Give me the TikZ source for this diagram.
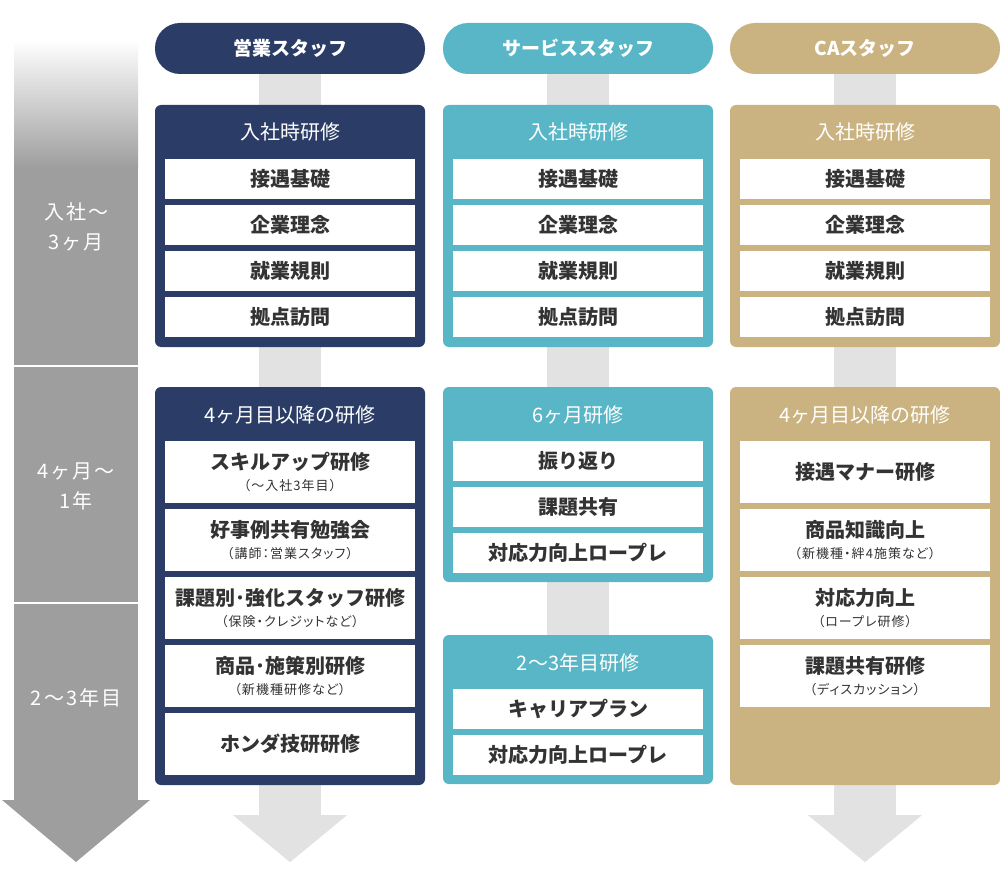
\documentclass[tikz,border=0pt]{standalone}
\usepackage{fontspec}
\setmainfont{Noto Sans CJK JP}
\newfontfamily\spacedfont[LetterSpace=10]{Noto Sans CJK JP}
\newfontfamily\subfont[RawFeature=+palt, LetterSpace=8]{Noto Sans CJK JP}
\usepackage{tikz}
\usetikzlibrary{positioning, backgrounds}
\definecolor{navy}{HTML}{2B3D66}
\definecolor{svcteal}{HTML}{58B6C6}
\definecolor{catan}{HTML}{CBB381}
\definecolor{tlgray}{HTML}{9E9E9E}
\definecolor{bargray}{HTML}{E2E2E2}
\definecolor{ink}{HTML}{333333}
\tikzset{
pill/.style={rounded corners=25pt, minimum width=270pt, minimum height=51pt,
inner sep=0pt, text=white, font=\bfseries\fontsize{19pt}{22pt}\selectfont},
stage/.style={rounded corners=6pt, minimum width=270pt, inner sep=0pt},
boxtitle/.style={inner sep=0pt, text=white, font=\fontsize{20pt}{24pt}\selectfont},
item/.style={fill=white, minimum width=250pt, minimum height=40pt, inner sep=0pt,
text=ink, font=\bfseries\fontsize{20pt}{24pt}\selectfont},
tall/.style={item, minimum height=62pt},
itemmain/.style={inner sep=0pt, text=ink, font=\bfseries\fontsize{20pt}{24pt}\selectfont},
itemsub/.style={inner sep=0pt, text=ink, font=\subfont\fontsize{13pt}{16pt}\selectfont},
period/.style={inner sep=0pt, text=white, align=center,
font=\spacedfont\fontsize{20pt}{30pt}\selectfont},
bar/.style={fill=bargray}
}

\begin{document}
\begin{tikzpicture}[x=1pt, y=-1pt]
\useasboundingbox (0,0) rectangle (1000,869);
% time line on the left
\shade[top color=white, bottom color=tlgray] (14,40) rectangle (138,168);
\fill[tlgray] (14,167) rectangle (138,801);
\fill[tlgray] (2,800) -- (150,800) -- (76,862) -- cycle;
\draw[white, line width=2pt] (14,366) -- (138,366);
\draw[white, line width=2pt] (14,603) -- (138,603);
\node[period] (p1) at (76,227) {入社〜\\3ヶ月};
\node[period] (p2) at (76,486) {4ヶ月〜\\1年};
\node[period] (p3) at (76,698) {2〜3年目};

% sales staff
\node[pill, fill=navy] (sales) at (290,48.5) {営業スタッフ};
\node[stage, fill=navy, minimum height=242pt] (sales-b1) at (290,226) {};
\node[boxtitle] (sales-b1-t) at (290,132) {入社時研修};
\node[item] (sales-b1-1) at (290,179) {接遇基礎};
\node[item] (sales-b1-2) at (290,225) {企業理念};
\node[item] (sales-b1-3) at (290,271) {就業規則};
\node[item] (sales-b1-4) at (290,317) {拠点訪問};
\node[stage, fill=navy, minimum height=398pt] (sales-b2) at (290,586) {};
\node[boxtitle] (sales-b2-t) at (290,415) {4ヶ月目以降の研修};
\node[tall] (sales-b2-1) at (290,472) {};
\node[itemmain] (sales-b2-1a) at ([yshift=-21pt]sales-b2-1.north) {スキルアップ研修};
\node[itemsub] (sales-b2-1b) at ([yshift=-45pt]sales-b2-1.north) {（〜入社3年目）};
\node[tall] (sales-b2-2) at (290,540) {};
\node[itemmain] (sales-b2-2a) at ([yshift=-21pt]sales-b2-2.north) {好事例共有勉強会};
\node[itemsub] (sales-b2-2b) at ([yshift=-45pt]sales-b2-2.north) {（講師：営業スタッフ）};
\node[tall] (sales-b2-3) at (290,608) {};
\node[itemmain] (sales-b2-3a) at ([yshift=-21pt]sales-b2-3.north) {課題別･強化スタッフ研修};
\node[itemsub] (sales-b2-3b) at ([yshift=-45pt]sales-b2-3.north) {（保険・クレジットなど）};
\node[tall] (sales-b2-4) at (290,676) {};
\node[itemmain] (sales-b2-4a) at ([yshift=-21pt]sales-b2-4.north) {商品･施策別研修};
\node[itemsub] (sales-b2-4b) at ([yshift=-45pt]sales-b2-4.north) {（新機種研修など）};
\node[tall] (sales-b2-5) at (290,744) {ホンダ技研研修};

% service staff
\node[pill, fill=svcteal] (service) at (578,48.5) {サービススタッフ};
\node[stage, fill=svcteal, minimum height=242pt] (service-b1) at (578,226) {};
\node[boxtitle] (service-b1-t) at (578,132) {入社時研修};
\node[item] (service-b1-1) at (578,179) {接遇基礎};
\node[item] (service-b1-2) at (578,225) {企業理念};
\node[item] (service-b1-3) at (578,271) {就業規則};
\node[item] (service-b1-4) at (578,317) {拠点訪問};
\node[stage, fill=svcteal, minimum height=195pt] (service-b2) at (578,484.5) {};
\node[boxtitle] (service-b2-t) at (578,415) {6ヶ月研修};
\node[item] (service-b2-1) at (578,461) {振り返り};
\node[item] (service-b2-2) at (578,507) {課題共有};
\node[item] (service-b2-3) at (578,553) {対応力向上ロープレ};
\node[stage, fill=svcteal, minimum height=149pt] (service-b3) at (578,709.5) {};
\node[boxtitle] (service-b3-t) at (578,663) {2〜3年目研修};
\node[item] (service-b3-1) at (578,709) {キャリアプラン};
\node[item] (service-b3-2) at (578,755) {対応力向上ロープレ};

% CA staff
\node[pill, fill=catan] (ca) at (865,48.5) {CAスタッフ};
\node[stage, fill=catan, minimum height=242pt] (ca-b1) at (865,226) {};
\node[boxtitle] (ca-b1-t) at (865,132) {入社時研修};
\node[item] (ca-b1-1) at (865,179) {接遇基礎};
\node[item] (ca-b1-2) at (865,225) {企業理念};
\node[item] (ca-b1-3) at (865,271) {就業規則};
\node[item] (ca-b1-4) at (865,317) {拠点訪問};
\node[stage, fill=catan, minimum height=398pt] (ca-b2) at (865,586) {};
\node[boxtitle] (ca-b2-t) at (865,415) {4ヶ月目以降の研修};
\node[tall] (ca-b2-1) at (865,472) {接遇マナー研修};
\node[tall] (ca-b2-2) at (865,540) {};
\node[itemmain] (ca-b2-2a) at ([yshift=-21pt]ca-b2-2.north) {商品知識向上};
\node[itemsub] (ca-b2-2b) at ([yshift=-45pt]ca-b2-2.north) {（新機種・絆4施策など）};
\node[tall] (ca-b2-3) at (865,608) {};
\node[itemmain] (ca-b2-3a) at ([yshift=-21pt]ca-b2-3.north) {対応力向上};
\node[itemsub] (ca-b2-3b) at ([yshift=-45pt]ca-b2-3.north) {（ロープレ研修）};
\node[tall] (ca-b2-4) at (865,676) {};
\node[itemmain] (ca-b2-4a) at ([yshift=-21pt]ca-b2-4.north) {課題共有研修};
\node[itemsub] (ca-b2-4b) at ([yshift=-45pt]ca-b2-4.north) {（ディスカッション）};

% gray flow bars behind the boxes
\begin{scope}[on background layer]
\fill[bar] ([xshift=-31pt]sales.center) rectangle ([xshift=31pt, yshift=-30pt]sales-b2.south);
\fill[bar] ([xshift=-57pt, yshift=-30pt]sales-b2.south) -- ([xshift=57pt, yshift=-30pt]sales-b2.south)
  -- ([yshift=-77pt]sales-b2.south) -- cycle;
\fill[bar] ([xshift=-31pt]service.center) rectangle ([xshift=31pt]service-b3.north);
\fill[bar] ([xshift=-31pt]ca.center) rectangle ([xshift=31pt, yshift=-30pt]ca-b2.south);
\fill[bar] ([xshift=-57pt, yshift=-30pt]ca-b2.south) -- ([xshift=57pt, yshift=-30pt]ca-b2.south)
  -- ([yshift=-77pt]ca-b2.south) -- cycle;
\end{scope}
\end{tikzpicture}
\end{document}
